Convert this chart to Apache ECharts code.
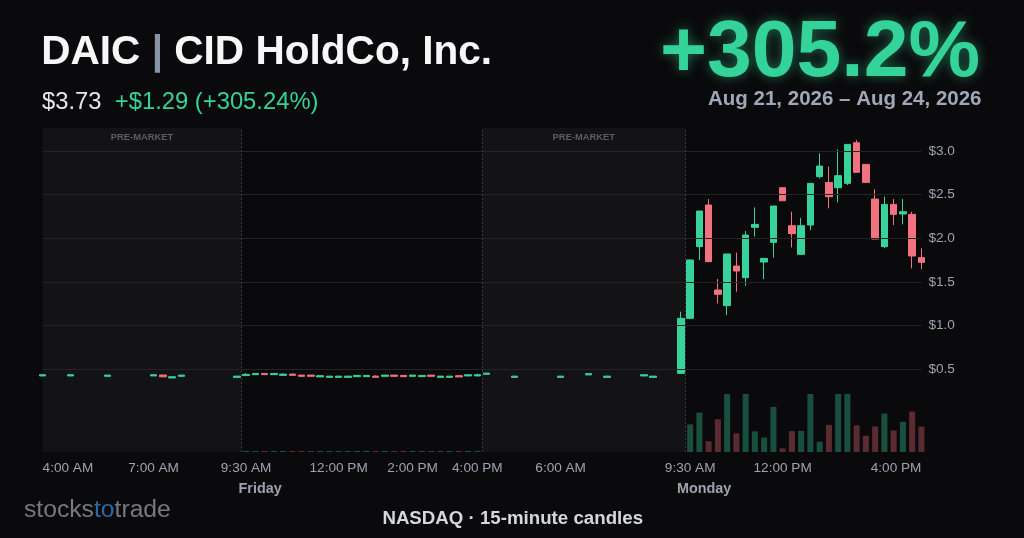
<!DOCTYPE html>
<html><head><meta charset="utf-8">
<script src="https://cdn.jsdelivr.net/npm/echarts@6/dist/echarts.min.js"></script>
<style>html,body{margin:0;padding:0;background:#0a0a0c;}#c{width:1024px;height:538px;}</style>
</head><body><div id="c"></div>
<script>
// ---- DATA ----  candle = [open, close, low, high], null = no trade in slot
const fridayPre = [
  [0.424,0.438,0.424,0.438], null, null, [0.424,0.438,0.424,0.438], null, null, null,
  [0.420,0.434,0.420,0.434], null, null, null, null,
  [0.424,0.438,0.424,0.438], [0.435,0.414,0.412,0.435], [0.401,0.415,0.401,0.415], [0.420,0.434,0.420,0.434],
  null, null, null, null, null, [0.408,0.422,0.408,0.422]
];
const fridayReg = [
  [0.428,0.442,0.428,0.458], [0.439,0.453,0.439,0.453], [0.453,0.439,0.439,0.453], [0.439,0.453,0.439,0.453],
  [0.431,0.445,0.431,0.452], [0.445,0.431,0.431,0.452], [0.434,0.420,0.420,0.434], [0.434,0.420,0.420,0.434],
  [0.413,0.427,0.413,0.427], [0.408,0.422,0.408,0.422], [0.408,0.422,0.408,0.422], [0.408,0.422,0.408,0.422],
  [0.416,0.430,0.416,0.430], [0.416,0.430,0.416,0.430], [0.422,0.408,0.408,0.430], [0.420,0.434,0.420,0.434],
  [0.434,0.420,0.420,0.434], [0.430,0.416,0.416,0.430], [0.420,0.434,0.420,0.434], [0.416,0.430,0.416,0.430],
  [0.434,0.420,0.420,0.434], [0.408,0.422,0.408,0.422], [0.408,0.422,0.408,0.422], [0.427,0.413,0.413,0.427],
  [0.424,0.438,0.424,0.438], [0.424,0.438,0.424,0.450]
];
const mondayPre = [
  [0.443,0.457,0.443,0.457], null, null, [0.408,0.422,0.408,0.422], null, null, null, null,
  [0.408,0.422,0.408,0.422], null, null, [0.436,0.450,0.436,0.450], null, [0.408,0.422,0.408,0.422],
  null, null, null, [0.424,0.438,0.424,0.438], [0.408,0.422,0.408,0.422], null, null,
  [0.454,1.084,0.450,1.160]
];
const mondayReg = [
  [1.084,1.752,1.073,1.760], [1.905,2.313,1.752,2.313], [2.382,1.733,1.733,2.450], [1.408,1.359,1.256,1.534],
  [1.229,1.821,1.122,1.821], [1.683,1.626,1.389,1.836], [1.550,2.038,1.458,2.084], [2.126,2.160,2.019,2.355],
  [1.729,1.771,1.534,1.771], [1.954,2.370,1.779,2.370], [2.580,2.431,2.431,2.580], [2.145,2.053,1.897,2.305],
  [1.817,2.145,1.817,2.233], [2.153,2.630,2.095,2.630], [2.706,2.828,2.687,2.973], [2.641,2.477,2.344,2.821],
  [2.580,2.718,2.412,3.019], [2.630,3.076,2.610,3.076], [3.095,2.756,2.756,3.126], [2.847,2.641,2.641,2.847],
  [2.450,1.992,1.992,2.561], [1.905,2.389,1.890,2.477], [2.389,2.275,2.153,2.450], [2.279,2.305,2.160,2.450],
  [2.275,1.798,1.656,2.305], [1.779,1.725,1.645,1.885]
];
// volume (thousand shares); null = none shown
const fridayPreVol = [null,null,null,null,null,null,null,null,null,null,null,null,null,null,null,null,null,null,null,null,null,null];
const fridayRegVol = [20,18,17,18,19,17,18,17,18,17,18,17,18,19,17,18,17,18,17,18,17,18,17,18,19,20];
const mondayPreVol = [null,null,null,null,null,null,null,null,null,null,null,null,null,null,null,null,null,null,null,null,null,null];
const mondayRegVol = [475,680,185,565,1000,320,1000,355,250,777,63,360,365,1000,177,468,1000,1000,458,280,440,663,372,520,698,440];
const tickSlots  = [0,12,22,32,40,47,56,70,80,95];
const tickLabels = ['4:00 AM','7:00 AM','9:30 AM','12:00 PM','2:00 PM','4:00 PM','6:00 AM','9:30 AM','12:00 PM','4:00 PM'];
const priceTicks = [0.5,1.0,1.5,2.0,2.5,3.0];
const sessionBreaks = [21.5,47.5,69.5];
const preMarketRanges = [[0,21.5],[47.5,69.5]];
const dayLabels = [{slot:22,text:'Friday'},{slot:70,text:'Monday'}];

function sessionTimes(day, startMin, count){
  const out=[];
  for(let k=0;k<count;k++){const m=startMin+15*k;out.push(day+' '+String(Math.floor(m/60)).padStart(2,'0')+':'+String(m%60).padStart(2,'0'));}
  return out;
}
const categories = [...sessionTimes('Fri',240,22),...sessionTimes('Fri',570,26),...sessionTimes('Mon',240,22),...sessionTimes('Mon',570,26)];

// ---- CHART ----
const FONT = 'Liberation Sans';
const UP='#38d39a', DOWN='#f3727f', UPV='#18503d', DOWNV='#5a2b31';
const candles=[...fridayPre,...fridayReg,...mondayPre,...mondayReg];
const volumes=[...fridayPreVol,...fridayRegVol,...mondayPreVol,...mondayRegVol];
const candleData=candles.map(c=>c?c:'-');
const volData=volumes.map((v,i)=>v==null?'-':{value:v,itemStyle:{color:candles[i][1]>=candles[i][0]?UPV:DOWNV}});

const chart=echarts.init(document.getElementById('c'));
const L=42.6, R=1024-921.4;
chart.setOption({
  backgroundColor:'#0a0a0c',
  animation:false,
  textStyle:{fontFamily:FONT},
  grid:[
    {left:L,right:R,top:128,bottom:86,outerBoundsMode:'none',containLabel:false},
    {left:L,right:R,top:394,bottom:86,outerBoundsMode:'none',containLabel:false}
  ],
  xAxis:[
    {type:'category',gridIndex:0,data:categories,boundaryGap:false,
     axisLine:{show:false},axisTick:{show:false},splitLine:{show:false},
     axisLabel:{color:'#9ca3af',fontSize:13.6,fontFamily:FONT,margin:9,
       interval:(i)=>tickSlots.includes(i),
       formatter:(v,i)=>tickLabels[tickSlots.indexOf(i)]||'',
       alignMinLabel:'left',alignMaxLabel:'right',showMinLabel:true,showMaxLabel:true}},
    {type:'value',gridIndex:0,min:0,max:categories.length-1,show:false},
    {type:'category',gridIndex:1,data:categories,boundaryGap:false,show:false}
  ],
  yAxis:[
    {type:'value',gridIndex:0,position:'right',min:-0.447,max:3.264,scale:true,
     axisLine:{show:false},axisTick:{show:false,customValues:priceTicks},splitLine:{show:false},
     axisLabel:{customValues:priceTicks,color:'#9ca3af',fontSize:13.6,fontFamily:FONT,margin:7,
       formatter:(v)=>'$'+v.toFixed(1)}},
    {type:'value',gridIndex:1,min:0,max:1000,show:false}
  ],
  series:[
    {type:'line',xAxisIndex:1,yAxisIndex:0,data:[],z:1,silent:true,
     markArea:{silent:true,itemStyle:{color:'#131316'},
       label:{show:true,position:'insideTop',distance:5,color:'#5c5d62',fontSize:9.4,fontWeight:'bold',fontFamily:FONT},
       data:preMarketRanges.map(r=>[{xAxis:r[0],name:'PRE-MARKET'},{xAxis:r[1]}])},
     markLine:{silent:true,symbol:['none','none'],label:{show:false},
       data:[...priceTicks.map(v=>({yAxis:v,lineStyle:{color:'#242428',width:1,type:'solid'}})),
             ...sessionBreaks.map(v=>({xAxis:v,lineStyle:{color:'#3a3a40',width:1,type:[2,2]}}))]}},
    {type:'bar',xAxisIndex:2,yAxisIndex:1,data:volData,barWidth:6,z:2,silent:true},
    {type:'candlestick',xAxisIndex:0,yAxisIndex:0,data:candleData,barWidth:7,clip:false,z:3,silent:true,
     itemStyle:{color:UP,color0:DOWN,borderColor:UP,borderColor0:DOWN,borderWidth:1}}
  ],
  graphic:[
    {type:'text',x:41.2,y:53,style:{text:'{t|DAIC }{p||}{t| CID HoldCo, Inc.}',verticalAlign:'middle',
      rich:{t:{fill:'#f7f7f8',fontSize:40.6,fontWeight:'bold',fontFamily:FONT},p:{fill:'#8a94a8',fontSize:40.6,fontWeight:'bold',fontFamily:FONT}}}},
    {type:'text',x:42,y:102,style:{text:'{w|$3.73}  {g|+$1.29 (+305.24%)}',verticalAlign:'middle',fontSize:23.8,fontFamily:FONT,
      rich:{w:{fill:'#e5e7eb',fontSize:23.8,fontFamily:FONT},g:{fill:'#34d399',fontSize:23.8,fontFamily:FONT}}}},
    {type:'text',x:980,y:53.3,style:{text:'+305.2%',align:'right',verticalAlign:'middle',fill:'#34d399',
      font:'bold 80.5px "Liberation Sans"',textShadowBlur:12,textShadowColor:'rgba(52,211,153,0.5)'}},
    {type:'text',x:981.5,y:99.7,style:{text:'Aug 21, 2026 \u2013 Aug 24, 2026',align:'right',verticalAlign:'middle',fill:'#a0a7b9',
      font:'bold 20.5px "Liberation Sans"'}},
    {type:'text',x:512.7,y:519.3,style:{text:'NASDAQ \u00b7 15-minute candles',align:'center',verticalAlign:'middle',fill:'#d4d7dd',
      font:'bold 18.7px "Liberation Sans"'}},
    {type:'text',x:24,y:510,style:{text:'{g|stocks}{b|to}{g|trade}',verticalAlign:'middle',
      rich:{g:{fill:'#77797e',fontSize:24.7,fontFamily:FONT},b:{fill:'#2c6aa3',fontSize:24.7,fontFamily:FONT}}}}
  ]
});
const dayGraphics=dayLabels.map((d,k)=>{
  const px=chart.convertToPixel({xAxisIndex:0},d.slot);
  return {type:'text',id:'day'+k,x:px+14,y:488.7,style:{text:d.text,align:'center',verticalAlign:'middle',fill:'#9ca3af',font:'bold 14.4px "Liberation Sans"'}};
});
chart.setOption({graphic:dayGraphics});
</script></body></html>
